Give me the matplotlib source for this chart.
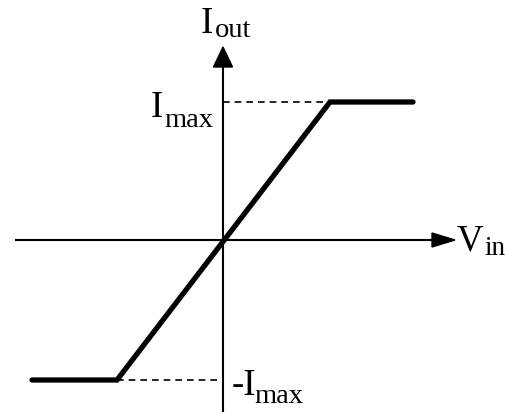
import matplotlib
matplotlib.use("Agg")
import matplotlib.pyplot as plt
from matplotlib.patches import Polygon

plt.rcParams['font.family'] = ['Liberation Serif', 'DejaVu Serif']

# Saturating transfer curve: Vin -> Iout
v_in = [-191, -106, 107, 190]
i_out = [-140, -140, 138, 138]
i_max = 138
i_min = -140

fig = plt.figure(figsize=(5.05, 4.15), dpi=100)
ax = fig.add_axes([0, 0, 1, 1])
ax.set_xlim(-223, 282)
ax.set_ylim(-175, 240)
ax.axis('off')

# axes with filled arrowheads
ax.plot([-208, 215], [0, 0], color='black', lw=1.5, solid_capstyle='butt')
ax.plot([0, 0], [-172, 178], color='black', lw=1.5, solid_capstyle='butt')
ax.add_patch(Polygon([[209, 7], [209, -7], [232, 0]], closed=True, color='black'))
ax.add_patch(Polygon([[-9.5, 173], [9.5, 173], [0, 193]], closed=True, color='black'))

# dashed guides to the saturation levels
ax.plot([0, v_in[2]], [i_max, i_max], color='black', lw=1.2, ls=(0, (4, 3)))
ax.plot([v_in[1], 0], [i_min, i_min], color='black', lw=1.2, ls=(0, (4, 3)))

# curve
ax.plot(v_in, i_out, color='black', lw=3.8, solid_capstyle='round', solid_joinstyle='miter')

# labels: main symbol plus a separately placed subscript
FS_MAIN = 26.5
FS_SUB = 20.5


def label(x, y, main, x_sub, drop, sub, fs_sub=FS_SUB):
    ax.text(x, y, main, fontsize=FS_MAIN, ha='left', va='baseline')
    ax.text(x_sub, y - drop, sub, fontsize=fs_sub, ha='left', va='baseline')


label(-22, 207, 'I', -8, 4, 'out')
label(-72, 123, 'I', -59, 10, 'max')
label(9, -155, '-I', 31, 8, 'max')
label(234, -10, 'V', 261, 5, 'in', fs_sub=19.5)

fig.savefig('out.png', dpi=100)
